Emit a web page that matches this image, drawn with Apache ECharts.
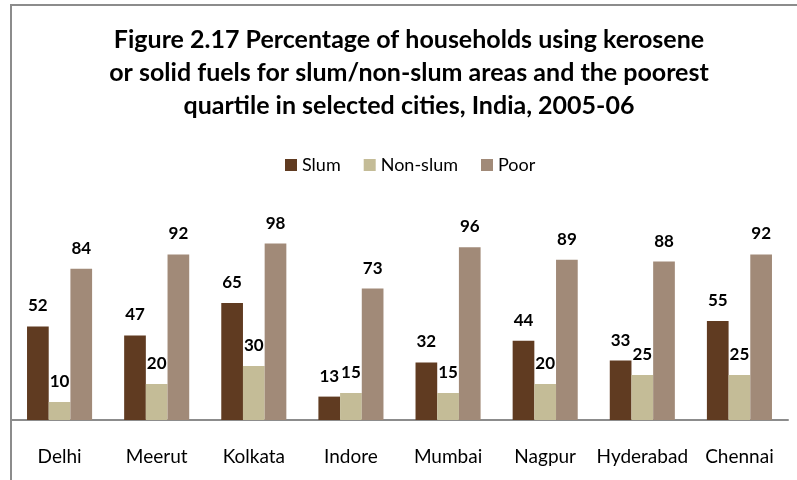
<!DOCTYPE html>
<html>
<head>
<meta charset="utf-8">
<script src="https://cdn.jsdelivr.net/npm/echarts@6/dist/echarts.min.js"></script>
<style>
  html, body { margin: 0; padding: 0; background: #fff; }
  #chart { width: 797px; height: 480px; }
</style>
</head>
<body>
<div id="chart"></div>
<script>
// data
const cities = ["Delhi", "Meerut", "Kolkata", "Indore", "Mumbai", "Nagpur", "Hyderabad", "Chennai"];
const slum = [52, 47, 65, 13, 32, 44, 33, 55];
const nonSlum = [10, 20, 30, 15, 15, 20, 25, 25];
const poor = [84, 92, 98, 73, 96, 89, 88, 92];

const chart = echarts.init(document.getElementById("chart"));

const labelStyle = {
  show: true,
  position: "top",
  distance: 12,
  fontFamily: "Lato",
  fontWeight: "bold",
  fontSize: 17,
  color: "#000",
};

function makeSeries(name, data, color) {
  return {
    name: name,
    type: "bar",
    data: data,
    barGap: "0%",
    barCategoryGap: "33%",
    itemStyle: { color: color },
    label: labelStyle,
  };
}

chart.setOption({
  animation: false,
  // frame around the chart area
  graphic: [
    {
      type: "rect",
      shape: { x: 11, y: 5, width: 820, height: 520 },
      style: { fill: "none", stroke: "#8c8c8c", lineWidth: 2 },
      silent: true,
    },
  ],
  title: {
    text: "Figure 2.17 Percentage of households using kerosene\nor solid fuels for slum/non-slum areas and the poorest\nquartile in selected cities, India, 2005-06",
    left: 404,
    top: 18,
    textAlign: "center",
    textStyle: {
      fontFamily: "Lato",
      fontWeight: "bold",
      fontSize: 25,
      lineHeight: 33,
      color: "#000",
    },
  },
  legend: {
    top: 151,
    left: 280,
    itemWidth: 12,
    itemHeight: 12,
    itemGap: 23,
    icon: "rect",
    textStyle: { fontFamily: "Lato", fontSize: 18, color: "#000" },
    data: ["Slum", "Non-slum", "Poor"],
  },
  grid: {
    left: 11,
    right: 9,
    top: 240,
    bottom: 60,
  },
  xAxis: {
    type: "category",
    data: cities,
    axisLine: { lineStyle: { color: "#8c8c8c", width: 2 } },
    axisTick: { interval: 0, length: 6, lineStyle: { color: "#8c8c8c", width: 2 } },
    axisLabel: {
      interval: 0,
      margin: 27,
      fontFamily: "Lato",
      fontSize: 19,
      color: "#000",
    },
  },
  yAxis: {
    type: "value",
    min: 0,
    max: 100,
    show: false,
    splitLine: { show: false },
  },
  series: [
    makeSeries("Slum", slum, "#603b21"),
    makeSeries("Non-slum", nonSlum, "#c4bc97"),
    makeSeries("Poor", poor, "#a18a78"),
  ],
});
</script>
</body>
</html>
